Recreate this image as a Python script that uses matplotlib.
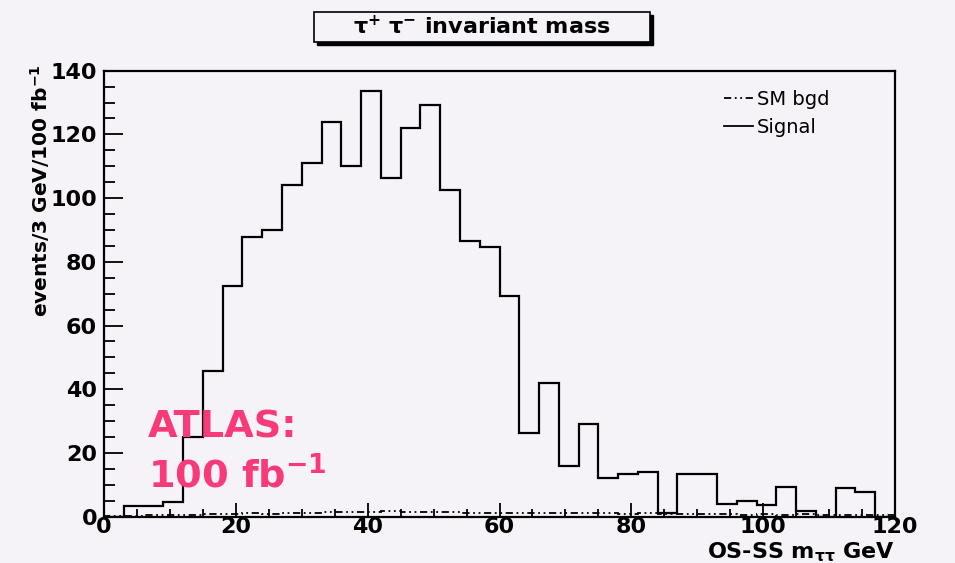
import numpy as np
import matplotlib.pyplot as plt
from matplotlib.lines import Line2D
from matplotlib.patches import Rectangle
from matplotlib.ticker import MultipleLocator

# 3 GeV bins from 0 to 120 GeV
edges = np.arange(0, 123, 3)

signal = [0, 3.4, 3.4, 4.5, 25, 45.8, 72.5, 87.7, 89.9, 104.1,
          111.1, 123.8, 110.1, 133.5, 106.3, 122.1, 129.2, 102.5, 86.6, 84.5,
          69.4, 26.3, 42.0, 15.9, 29.1, 12.0, 13.3, 13.9, 1.0, 13.3,
          13.3, 3.9, 5.0, 3.6, 9.4, 1.8, 0, 8.9, 7.6, 0]

sm_bgd = [0.3, 0.3, 0.4, 0.5, 0.6, 0.8, 0.9, 1.0, 0.9, 1.1,
          1.2, 1.3, 1.5, 1.6, 1.8, 1.6, 1.4, 1.3, 1.2, 1.1,
          1.0, 1.2, 1.1, 1.0, 1.2, 1.0, 0.9, 1.0, 0.8, 0.9,
          0.7, 0.8, 0.6, 0.7, 0.6, 0.7, 0.5, 0.6, 0.5, 0.4]

xticks = [0, 20, 40, 60, 80, 100, 120]
yticks = [0, 20, 40, 60, 80, 100, 120, 140]

bg = "#f5f2f8"
pink = "#f83a78"
W, H = 955, 563

plt.rcParams["font.family"] = ["DejaVu Sans"]

fig = plt.figure(figsize=(W / 100, H / 100), dpi=100)
fig.patch.set_facecolor(bg)

# axes frame in pixel terms: x 104..895, y 70.7..516.6
ax = fig.add_axes([104 / W, 1 - 516.6 / H, (895 - 104) / W, (516.6 - 70.7) / H])
ax.set_facecolor(bg)

ax.stairs(sm_bgd, edges, color="black", lw=1.3, linestyle=(0, (4, 2, 1, 2, 1, 2)))
ax.stairs(signal, edges, color="black", lw=1.6)

ax.set_xlim(0, 120)
ax.set_ylim(0, 140)
ax.set_xticks(xticks)
ax.set_yticks(yticks)
ax.xaxis.set_minor_locator(MultipleLocator(5))
ax.yaxis.set_minor_locator(MultipleLocator(5))
ax.tick_params(axis="both", which="both", direction="in", top=False, right=False,
               width=1.3, labelsize=16)
ax.tick_params(axis="x", which="major", length=10, pad=0.5)
ax.tick_params(axis="x", which="minor", length=6)
ax.tick_params(axis="y", which="major", length=14, pad=5)
ax.tick_params(axis="y", which="minor", length=8)
for lab in ax.get_xticklabels() + ax.get_yticklabels():
    lab.set_fontweight("bold")
for sp in ax.spines.values():
    sp.set_linewidth(1.6)

# legend
handles = [Line2D([], [], color="black", lw=1.3, linestyle=(0, (4, 2, 1, 2, 1, 2))),
           Line2D([], [], color="black", lw=1.3)]
ax.legend(handles, ["SM bgd", "Signal"], loc="upper left",
          bbox_to_anchor=(724 / W, 1 - 90 / H), bbox_transform=fig.transFigure,
          frameon=False, fontsize=14, handlelength=1.5, handletextpad=0.2,
          labelspacing=0.45, borderpad=0, borderaxespad=0)

# axis labels, ROOT style
fig.text(40 / W, 1 - 64 / H, r"events/3 GeV/100 fb$^{\mathbf{-1}}$", rotation=90,
         ha="center", va="top", fontsize=14.5, fontweight="bold")
fig.text(895 / W, 1 - 552 / H, r"OS-SS m$_{\mathbf{\tau\tau}}$ GeV", ha="right",
         va="center", fontsize=16, fontweight="bold")

# title box with shadow
bx, by, bw, bh = 314, 11.7, 336, 30
fig.patches.append(Rectangle(((bx + 3) / W, 1 - (by + bh + 3) / H), bw / W, bh / H,
                             transform=fig.transFigure, facecolor="black",
                             edgecolor="black", lw=1))
fig.patches.append(Rectangle((bx / W, 1 - (by + bh) / H), bw / W, bh / H,
                             transform=fig.transFigure, facecolor=bg,
                             edgecolor="black", lw=1.2))
fig.text((bx + bw / 2) / W, 1 - (by + bh / 2) / H,
         r"$\mathregular{\tau^{+}\ \tau^{-}}$ invariant mass",
         ha="center", va="center", fontsize=16, fontweight="bold")

# ATLAS annotation
fig.text(148 / W, 1 - 438 / H, "ATLAS:", ha="left", va="baseline",
         fontsize=27.5, fontweight="bold", color=pink)
fig.text(148 / W, 1 - 487 / H, r"100 fb$^{\mathbf{-1}}$", ha="left", va="baseline",
         fontsize=27.5, fontweight="bold", color=pink)

fig.savefig("out.png", dpi=100, facecolor=bg)
